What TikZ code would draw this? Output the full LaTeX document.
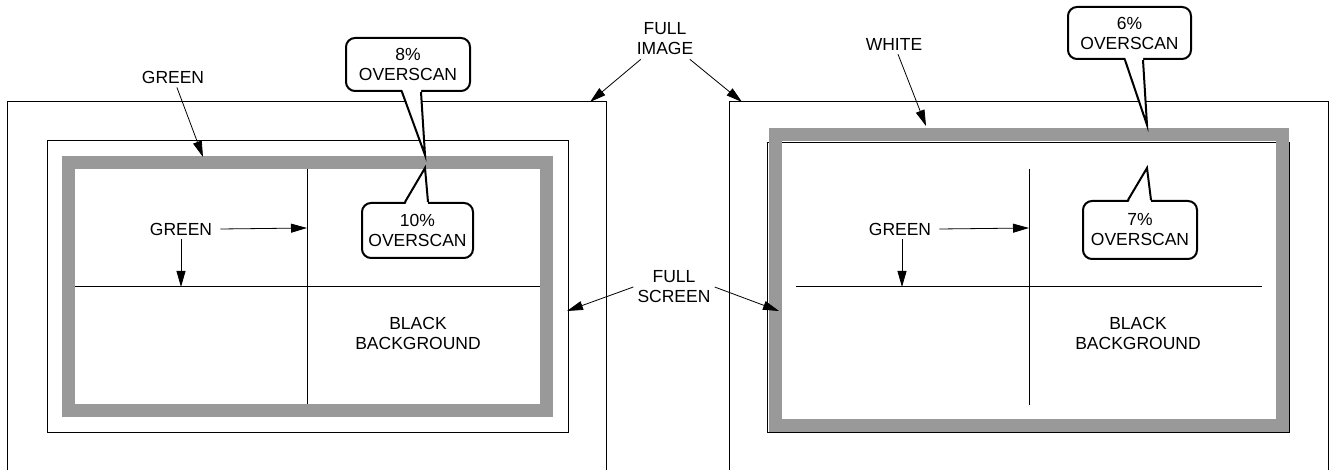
\documentclass[tikz,border=0pt]{standalone}
\usepackage{fontspec}
\setmainfont{Liberation Sans}
\usetikzlibrary{arrows.meta}
\definecolor{framegray}{RGB}{153,153,153}

\tikzset{
  lbl/.style={font=\fontsize{17.5}{20}\selectfont, align=center, inner sep=4pt},
  ptr/.style={-{Triangle[length=16pt,width=9pt]}, line width=0.8pt},
  thin line/.style={line width=1pt},
  gframe/.style={draw=framegray, line width=13pt},
  callout/.style={lbl, draw, fill=white, line width=2pt, rounded corners=9pt, inner sep=0pt},
  tail/.style={line width=2pt, line join=miter}
}

\begin{document}
\begin{tikzpicture}[x=1pt,y=-1pt]
  \useasboundingbox (0,0) rectangle (1330,470);

  % left picture: full image, full screen, overscan frame, cross
  \draw[thin line] (7,475) -- (7,102) -- (606,102) -- (606,475);
  \draw[thin line] (47,141) rectangle (568,432);
  \draw[gframe] (68.5,162.5) rectangle (546,410.5);
  \draw[thin line] (307,169) -- (307,404);
  \draw[thin line] (75,287) -- (540,287);

  % right picture
  \draw[thin line] (729,475) -- (729,102) -- (1328,102) -- (1328,475);
  \draw[thin line] (767.5,142.5) rectangle (1289.5,432.5);
  \draw[gframe] (775,135) rectangle (1282.5,425.5);
  \draw[thin line] (1029,169) -- (1029,405);
  \draw[thin line] (796,287) -- (1262,287);

  % arrow targets
  \coordinate (imgL) at (590,102);
  \coordinate (imgR) at (742,102);
  \coordinate (scrL) at (567,311);
  \coordinate (scrR) at (779,311);
  \coordinate (greenTop) at (203,157);
  \coordinate (whiteTop) at (926,126);
  \coordinate (vertL) at (307,228);
  \coordinate (horL) at (181,287);
  \coordinate (vertR) at (1029,228);
  \coordinate (horR) at (902,287);

  % labels
  \node[lbl] (fullimage) at (665,39) {FULL\\IMAGE};
  \node[lbl] (fullscreen) at (674,287) {FULL\\SCREEN};
  \node[lbl] (greenL) at (173,77) {GREEN};
  \node[lbl] (white) at (894,44) {WHITE};
  \node[lbl] (crossL) at (181,229) {GREEN};
  \node[lbl] (crossR) at (900,229) {GREEN};
  \node[lbl] (blackL) at (418,333.5) {BLACK\\BACKGROUND};
  \node[lbl] (blackR) at (1138,333.5) {BLACK\\BACKGROUND};

  \draw[ptr] (fullimage) -- (imgL);
  \draw[ptr] (fullimage) -- (imgR);
  \draw[ptr] (fullscreen.west) -- (scrL);
  \draw[ptr] (fullscreen.east) -- (scrR);
  \draw[ptr] (greenL) -- (greenTop);
  \draw[ptr] (white) -- (whiteTop);
  \draw[ptr] ([xshift=4pt]crossL.east) -- (vertL);
  \draw[ptr] (crossL.south) -- (horL);
  \draw[ptr] ([xshift=4pt]crossR.east) -- (vertR);
  \draw[ptr] ([xshift=2pt]crossR.south) -- (horR);

  % overscan callouts
  \node[callout, minimum width=124pt, minimum height=53pt] (os8) at (408,64.5) {8\%\\OVERSCAN};
  \node[callout, minimum width=111pt, minimum height=55pt] (os10) at (417.5,230.5) {10\%\\OVERSCAN};
  \node[callout, minimum width=123pt, minimum height=52pt] (os6) at (1129.5,33) {6\%\\OVERSCAN};
  \node[callout, minimum width=114pt, minimum height=58pt] (os7) at (1140,230) {7\%\\OVERSCAN};
  \coordinate (tip8) at (425,155);
  \coordinate (tip10) at (425,168);
  \coordinate (tip6) at (1147,125);
  \coordinate (tip7) at (1147,168);

  \fill[white] ([xshift=-6pt,yshift=3pt]os8.south) -- (tip8) -- ([xshift=13pt,yshift=3pt]os8.south) -- cycle;
  \draw[tail] ([xshift=-6pt]os8.south) -- (tip8) -- ([xshift=13pt]os8.south);
  \fill[white] ([xshift=-12.5pt,yshift=-3pt]os10.north) -- (tip10) -- ([xshift=10.5pt,yshift=-3pt]os10.north) -- cycle;
  \draw[tail] ([xshift=-12.5pt]os10.north) -- (tip10) -- ([xshift=10.5pt]os10.north);
  \fill[white] ([xshift=-4.5pt,yshift=3pt]os6.south) -- (tip6) -- ([xshift=13.5pt,yshift=3pt]os6.south) -- cycle;
  \draw[tail] ([xshift=-4.5pt]os6.south) -- (tip6) -- ([xshift=13.5pt]os6.south);
  \fill[white] ([xshift=-12pt,yshift=-3pt]os7.north) -- (tip7) -- ([xshift=11pt,yshift=-3pt]os7.north) -- cycle;
  \draw[tail] ([xshift=-12pt]os7.north) -- (tip7) -- ([xshift=11pt]os7.north);
\end{tikzpicture}
\end{document}
